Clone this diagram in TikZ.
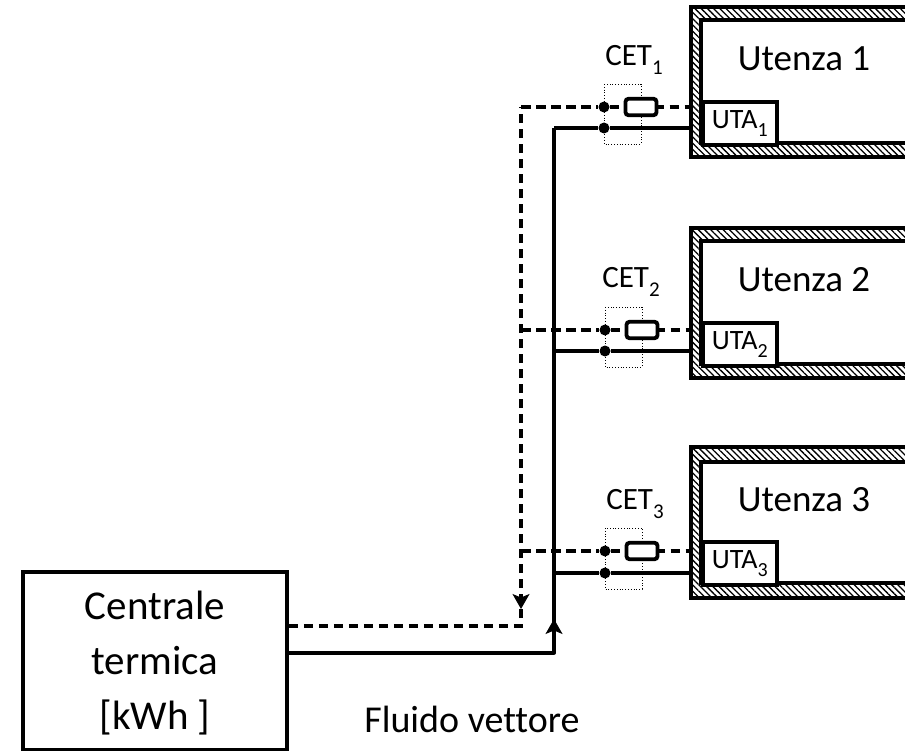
\documentclass[tikz,border=0pt]{standalone}
\usepackage{fontspec}
\setmainfont[Ligatures=NoCommon]{Carlito}
\usetikzlibrary{arrows.meta,patterns.meta}
\newcommand{\lowsub}[2]{\raisebox{-.3em}{\fontsize{#1}{#1}\selectfont #2}}
\tikzset{
  x=1pt,y=-1pt,
  wall/.style={line width=4.8pt,line join=miter},
  hatching/.style={pattern={Lines[angle=-45,distance=4.4pt,line width=1.3pt]},draw=none},
  supply/.style={line width=4pt,draw=black,line join=round},
  back/.style={line width=4pt,draw=black,dash pattern=on 9.5pt off 5.5pt},
  junction/.style={circle,fill=black,inner sep=0pt,minimum size=11pt},
  resistor/.style={draw=black,line width=3.8pt,fill=white,rounded corners=3pt,minimum width=31pt,minimum height=16.5pt,inner sep=0pt},
  meter/.style={draw=black,line width=.8pt,dotted},
  utabox/.style={draw=black,line width=3.6pt,fill=white,anchor=north west,minimum width=74pt,minimum height=43pt,inner sep=0pt,font=\fontsize{28}{28}\selectfont},
  roomlabel/.style={font=\fontsize{37}{37}\selectfont,inner sep=0pt},
  metlabel/.style={font=\fontsize{31}{31}\selectfont,inner sep=0pt},
  plant/.style={draw=black,line width=3.6pt,minimum width=264pt,minimum height=178pt,inner sep=0pt,align=center,font=\fontsize{41}{55}\selectfont},
  trunkhead/.style={-{Stealth[length=15pt,width=17pt,inset=3.5pt]},line width=1pt},
}
\begin{document}
\begin{tikzpicture}
\useasboundingbox (0,0) rectangle (905,751);
% plant
\node[plant] (plant) at (155,661) {\rule{0pt}{33pt}Centrale\\termica\\{[}kWh ]};
\node[font=\fontsize{38}{38}\selectfont,inner sep=0pt] (fluid) at (472,719) {Fluido vettore};
% trunk coordinates
\coordinate (dashOut) at (plant.east |- 0,626);
\coordinate (solidOut) at (plant.east |- 0,652.5);
\coordinate (dashTurn) at (521,626);
\coordinate (solidTurn) at (554,652.5);
% three rooms: index / top / inner top / inner bottom / bottom / dashed y / solid y / dot x / label x / label y(CET)
\foreach \i/\tp/\itp/\ibt/\bt/\dy/\sy/\dx/\lx/\ly in {
  1/7/20/143/157/107/128/604/634/60,
  2/228/241/364/378/330/351/605/631/282,
  3/447/462/583/598/551/573/605/635/504}{
  \pgfmathsetmacro{\utatop}{\ibt-43}
  \pgfmathsetmacro{\rx}{\dx+37}
  \pgfmathsetmacro{\boxt}{\dy-23}
  \pgfmathsetmacro{\boxb}{\sy+16}
  \pgfmathsetmacro{\cx}{\dx+19}
  \pgfmathsetmacro{\rlbl}{(\itp+\ibt)/2-23.5}
  % hatching and walls
  \fill[hatching,even odd rule] (691,\tp) rectangle (905,\bt) (701,\itp) rectangle (905,\ibt);
  \draw[wall] (905,\tp) -- (691,\tp) -- (691,\bt) -- (905,\bt);
  \draw[wall,line width=3.6pt] (905,\itp) -- (701,\itp) -- (701,\ibt) -- (905,\ibt);
  \node[roomlabel] (room\i) at (804,\rlbl+1) {Utenza \i};
  \node[utabox] (uta\i) at (701,\utatop) {UTA\lowsub{20}{\i}};
  \coordinate (wallD\i) at (689,\dy);
  \coordinate (wallS\i) at (689,\sy);
  \coordinate (busD\i) at (521,\dy);
  \coordinate (busS\i) at (554,\sy);
  % meter
  \draw[meter] (\dx,\boxt) rectangle (\rx,\boxb);
  \node[metlabel] (cet\i) at (\lx,\ly) {CET\lowsub{21}{\i}};
  \node[junction] (dotD\i) at (\dx,\dy) {};
  \node[junction] (dotS\i) at (\dx,\sy) {};
  \draw[back] (busD\i) -- (dotD\i);
  \draw[back] (dotD\i) -- (wallD\i);
  \draw[supply] (busS\i) -- (dotS\i) -- (wallS\i);
  \node[resistor] (res\i) at (\cx+18,\dy) {};
}
% return trunk
\draw[back] (dashOut) -- (dashTurn) -- (busD1);
\coordinate (returnA) at (521,594);
\coordinate (returnB) at (521,609);
\draw[trunkhead] (returnA) -- (returnB);
% supply trunk
\draw[supply] (solidOut) -- (solidTurn) -- (busS1);
\coordinate (supplyA) at (554,634);
\coordinate (supplyB) at (554,619);
\draw[trunkhead] (supplyA) -- (supplyB);
\end{tikzpicture}
\end{document}
